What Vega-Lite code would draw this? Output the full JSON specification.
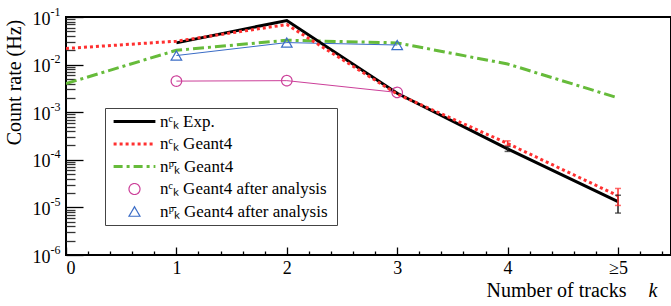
{
  "$schema": "https://vega.github.io/schema/vega-lite/v6.json",
  "width": 605,
  "height": 238,
  "autosize": "none",
  "padding": {"left": 66, "top": 17, "right": 0, "bottom": 51},
  "background": "white",
  "config": {
    "font": "Liberation Serif",
    "view": {"stroke": "black", "strokeWidth": 2},
    "axis": {
      "labelFont": "Liberation Serif", "titleFont": "Liberation Serif",
      "labelColor": "black", "titleColor": "black", "tickColor": "black",
      "grid": false, "domain": false, "labelFontSize": 18, "titleFontSize": 20,
      "titleFontWeight": "normal", "tickWidth": 1.3
    },
    "legend": {
      "orient": "none", "legendX": 39, "legendY": 91, "padding": 5,
      "strokeColor": "#444", "fillColor": "white",
      "symbolOffset": 16, "labelOffset": 17, "symbolSize": 121,
      "symbolFillColor": "transparent",
      "labelFont": "Liberation Serif", "labelFontSize": 17, "labelColor": "black",
      "rowPadding": 4.5, "labelLimit": 400
    }
  },
  "datasets": {
    "lines": [
      {"s": "nᶜₖ  Exp.", "k": 1, "v": 0.0286},
      {"s": "nᶜₖ  Exp.", "k": 2, "v": 0.0845},
      {"s": "nᶜₖ  Exp.", "k": 3, "v": 0.0025},
      {"s": "nᶜₖ  Exp.", "k": 4, "v": 0.00017},
      {"s": "nᶜₖ  Exp.", "k": 5, "v": 0.0000132},
      {"s": "nᶜₖ  Geant4", "k": 0, "v": 0.0218},
      {"s": "nᶜₖ  Geant4", "k": 1, "v": 0.031},
      {"s": "nᶜₖ  Geant4", "k": 2, "v": 0.0695},
      {"s": "nᶜₖ  Geant4", "k": 3, "v": 0.0024},
      {"s": "nᶜₖ  Geant4", "k": 4, "v": 0.00022},
      {"s": "nᶜₖ  Geant4", "k": 5, "v": 0.0000175},
      {"s": "nᵖ̄ₖ  Geant4", "k": 0, "v": 0.004},
      {"s": "nᵖ̄ₖ  Geant4", "k": 1, "v": 0.02},
      {"s": "nᵖ̄ₖ  Geant4", "k": 2, "v": 0.0325},
      {"s": "nᵖ̄ₖ  Geant4", "k": 3, "v": 0.0286},
      {"s": "nᵖ̄ₖ  Geant4", "k": 4, "v": 0.0103},
      {"s": "nᵖ̄ₖ  Geant4", "k": 5, "v": 0.002},
      {"s": "nᶜₖ  Geant4 after analysis", "k": 1, "v": 0.0045},
      {"s": "nᶜₖ  Geant4 after analysis", "k": 2, "v": 0.0046},
      {"s": "nᶜₖ  Geant4 after analysis", "k": 3, "v": 0.0026},
      {"s": "nᵖ̄ₖ  Geant4 after analysis", "k": 1, "v": 0.0155},
      {"s": "nᵖ̄ₖ  Geant4 after analysis", "k": 2, "v": 0.029},
      {"s": "nᵖ̄ₖ  Geant4 after analysis", "k": 3, "v": 0.0258}
    ],
    "errs": [
      {"s": "nᶜₖ  Exp.", "k": 4, "lo": 0.00015, "hi": 0.00019},
      {"s": "nᶜₖ  Exp.", "k": 5, "lo": 0.0000076, "hi": 0.000018},
      {"s": "nᶜₖ  Geant4", "k": 4, "lo": 0.0002, "hi": 0.00025},
      {"s": "nᶜₖ  Geant4", "k": 5, "lo": 0.000011, "hi": 0.000025}
    ]
  },
  "resolve": {"axis": {"x": "independent", "y": "independent"}},
  "layer": [
    {
      "data": {"name": "lines"},
      "transform": [{"filter": "datum.s == 'nᵖ̄ₖ  Geant4'"}],
      "mark": {"type": "line", "color": "#66bb3a", "strokeWidth": 3, "strokeDash": [11, 4, 3, 4], "clip": true},
      "encoding": {
        "x": {"field": "k", "type": "quantitative", "scale": {"domain": [0, 5.48], "nice": false, "zero": false},
          "axis": {"orient": "bottom", "values": [0, 1, 2, 3, 4, 5], "labelExpr": "datum.value == 5 ? '≥5' : datum.label",
            "ticks": false, "labelPadding": 4, "title": "Number of tracks", "titleAlign": "right",
            "titleX": 560, "titleY": 41, "titleBaseline": "alphabetic"}},
        "y": {"field": "v", "type": "quantitative", "scale": {"type": "log", "domain": [0.000001, 0.1], "nice": false},
          "axis": {"orient": "left", "values": [0.000001, 0.00001, 0.0001, 0.001, 0.01, 0.1], "labelExpr": "'10'",
            "ticks": false, "labelPadding": 16, "labelOffset": 2, "title": "Count rate (Hz)",
            "titleX": -52, "titleY": 65, "titleAngle": -90, "titleAlign": "center", "titleBaseline": "middle"}}
      }
    },
    {
      "data": {"name": "lines"},
      "transform": [{"filter": "datum.s == 'nᵖ̄ₖ  Geant4 after analysis'"}],
      "mark": {"type": "line", "color": "#3a6cc6", "strokeWidth": 1, "clip": true},
      "encoding": {
        "x": {"field": "k", "type": "quantitative", "scale": {"domain": [0, 5.48], "nice": false, "zero": false},
          "axis": {"orient": "bottom", "values": [0, 1, 2, 3, 4, 5], "labels": false, "tickSize": -8,
            "title": "k", "titleFontStyle": "italic", "titleAlign": "left", "titleX": 582, "titleY": 41, "titleBaseline": "alphabetic"}},
        "y": {"field": "v", "type": "quantitative", "scale": {"type": "log", "domain": [0.000001, 0.1], "nice": false},
          "axis": {"orient": "left", "values": [0.000001, 0.00001, 0.0001, 0.001, 0.01, 0.1],
            "labelExpr": "'-' + round(-log(datum.value) / LN10)", "labelFontSize": 12, "labelAlign": "left",
            "ticks": false, "labelPadding": 16, "labelOffset": -6, "title": null}}
      }
    },
    {
      "data": {"name": "lines"},
      "transform": [{"filter": "datum.s == 'nᶜₖ  Geant4 after analysis'"}],
      "mark": {"type": "line", "color": "#cc3f99", "strokeWidth": 1, "clip": true},
      "encoding": {
        "x": {"field": "k", "type": "quantitative", "scale": {"domain": [0, 5.48], "nice": false, "zero": false},
          "axis": {"orient": "bottom", "values": [0.2, 0.4, 0.6, 0.8, 1.2, 1.4, 1.6, 1.8, 2.2, 2.4, 2.6, 2.8, 3.2, 3.4, 3.6, 3.8, 4.2, 4.4, 4.6, 4.8, 5.2, 5.4],
            "labels": false, "tickSize": -4, "title": null}},
        "y": {"field": "v", "type": "quantitative", "scale": {"type": "log", "domain": [0.000001, 0.1], "nice": false},
          "axis": {"orient": "left", "values": [0.000001, 0.00001, 0.0001, 0.001, 0.01, 0.1],
            "labels": false, "tickSize": -17, "title": null}}
      }
    },
    {
      "data": {"name": "lines"},
      "transform": [{"filter": "datum.s == 'nᶜₖ  Exp.'"}],
      "mark": {"type": "line", "color": "black", "strokeWidth": 3, "clip": true},
      "encoding": {
        "x": {"field": "k", "type": "quantitative", "axis": null},
        "y": {"field": "v", "type": "quantitative",
          "axis": {"orient": "left", "values": [0.000002, 0.000003, 0.000004, 0.000005, 0.000006, 0.000007, 0.000008, 0.000009,
            0.00002, 0.00003, 0.00004, 0.00005, 0.00006, 0.00007, 0.00008, 0.00009,
            0.0002, 0.0003, 0.0004, 0.0005, 0.0006, 0.0007, 0.0008, 0.0009,
            0.002, 0.003, 0.004, 0.005, 0.006, 0.007, 0.008, 0.009,
            0.02, 0.03, 0.04, 0.05, 0.06, 0.07, 0.08, 0.09],
            "labels": false, "tickSize": -9, "tickColor": "#333", "title": null}}
      }
    },
    {
      "data": {"name": "lines"},
      "transform": [{"filter": "datum.s == 'nᶜₖ  Geant4'"}],
      "mark": {"type": "line", "color": "#ff3030", "strokeWidth": 3, "strokeDash": [3, 3], "clip": true},
      "encoding": {
        "x": {"field": "k", "type": "quantitative", "axis": null},
        "y": {"field": "v", "type": "quantitative", "axis": null}
      }
    },
    {
      "data": {"name": "lines"},
      "transform": [{"filter": "indexof(datum.s, 'analysis') >= 0"}],
      "mark": {"type": "point", "filled": false, "size": 110, "opacity": 1, "clip": true},
      "encoding": {
        "x": {"field": "k", "type": "quantitative", "axis": null},
        "y": {"field": "v", "type": "quantitative", "axis": null},
        "fill": {"value": "transparent"},
        "stroke": {"field": "s", "type": "nominal",
          "scale": {"domain": ["nᶜₖ  Exp.", "nᶜₖ  Geant4", "nᵖ̄ₖ  Geant4", "nᶜₖ  Geant4 after analysis", "nᵖ̄ₖ  Geant4 after analysis"],
            "range": ["black", "#ff3030", "#66bb3a", "#cc3f99", "#3a6cc6"]},
          "legend": {"title": null}},
        "shape": {"field": "s", "type": "nominal",
          "scale": {"domain": ["nᶜₖ  Exp.", "nᶜₖ  Geant4", "nᵖ̄ₖ  Geant4", "nᶜₖ  Geant4 after analysis", "nᵖ̄ₖ  Geant4 after analysis"],
            "range": ["M-3.8,0H3.8", "M-3.8,0H3.8", "M-3.8,0H3.8", "circle", "triangle-up"]},
          "legend": {"title": null}},
        "strokeDash": {"field": "s", "type": "nominal",
          "scale": {"domain": ["nᶜₖ  Exp.", "nᶜₖ  Geant4", "nᵖ̄ₖ  Geant4", "nᶜₖ  Geant4 after analysis", "nᵖ̄ₖ  Geant4 after analysis"],
            "range": [[1, 0], [3, 3], [9, 4, 3, 4], [1, 0], [1, 0]]},
          "legend": {"title": null}},
        "strokeWidth": {"field": "s", "type": "nominal",
          "scale": {"type": "ordinal", "domain": ["nᶜₖ  Exp.", "nᶜₖ  Geant4", "nᵖ̄ₖ  Geant4", "nᶜₖ  Geant4 after analysis", "nᵖ̄ₖ  Geant4 after analysis"],
            "range": [3, 3, 3, 1.2, 1.2]},
          "legend": {"title": null}}
      }
    },
    {
      "data": {"name": "errs"},
      "mark": {"type": "rule", "strokeWidth": 1.5},
      "encoding": {
        "x": {"field": "k", "type": "quantitative", "axis": null},
        "y": {"field": "lo", "type": "quantitative", "axis": null},
        "y2": {"field": "hi"},
        "color": {"field": "s", "type": "nominal", "scale": {"domain": ["nᶜₖ  Exp.", "nᶜₖ  Geant4"], "range": ["#222", "#ff3030"]}, "legend": null}
      }
    },
    {
      "data": {"name": "errs"},
      "mark": {"type": "tick", "orient": "horizontal", "size": 6, "thickness": 1.5},
      "encoding": {
        "x": {"field": "k", "type": "quantitative", "axis": null},
        "y": {"field": "lo", "type": "quantitative", "axis": null},
        "color": {"field": "s", "type": "nominal", "legend": null}
      }
    },
    {
      "data": {"name": "errs"},
      "mark": {"type": "tick", "orient": "horizontal", "size": 6, "thickness": 1.5},
      "encoding": {
        "x": {"field": "k", "type": "quantitative", "axis": null},
        "y": {"field": "hi", "type": "quantitative", "axis": null},
        "color": {"field": "s", "type": "nominal", "legend": null}
      }
    }
  ]
}
